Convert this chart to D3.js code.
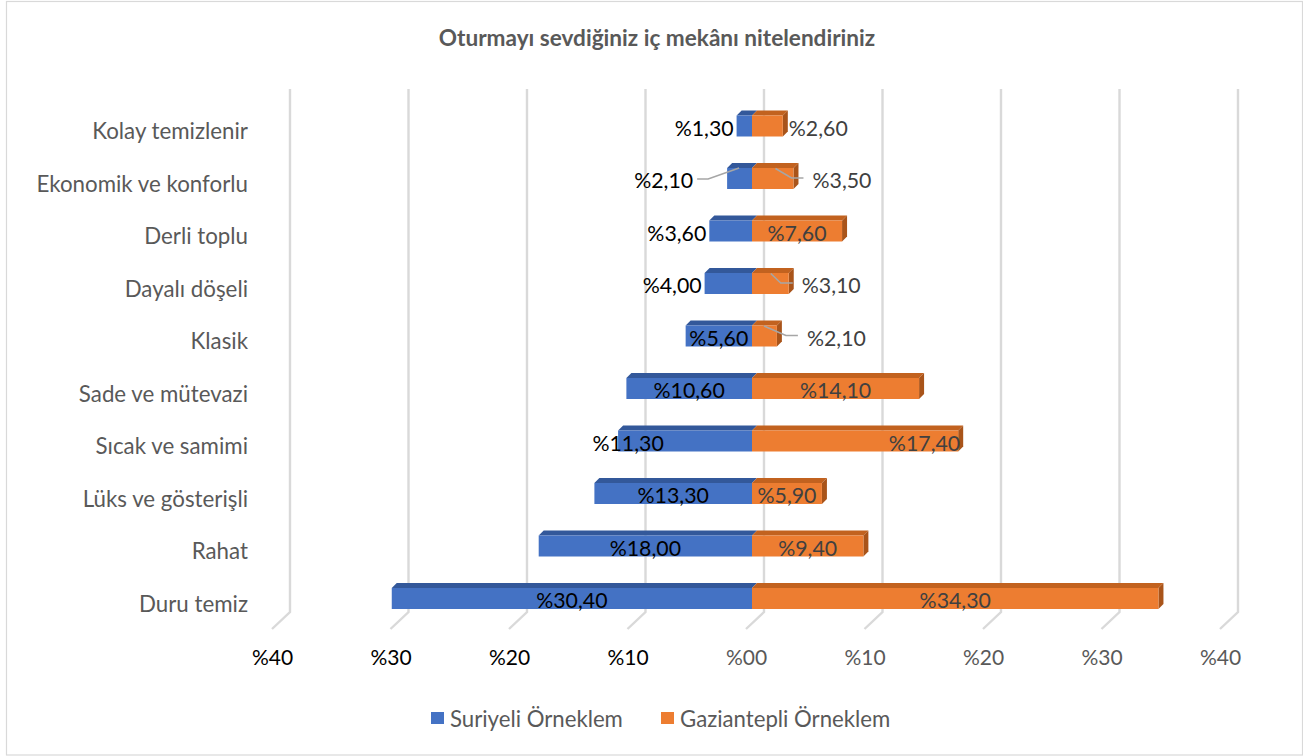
<!DOCTYPE html>
<html>
<head>
<meta charset="utf-8">
<script src="https://cdn.jsdelivr.net/npm/d3@7"></script>
<style>
  html, body { margin: 0; padding: 0; background: #fff; }
  svg { display: block; font-family: Lato, "Open Sans", sans-serif; }
</style>
</head>
<body>
<svg id="chart" width="1303" height="756"></svg>
<script>
// ---------- data ----------
const title = "Oturmayı sevdiğiniz iç mekânı nitelendiriniz";
const categories = ["Kolay temizlenir", "Ekonomik ve konforlu", "Derli toplu", "Dayalı döşeli", "Klasik",
  "Sade ve mütevazi", "Sıcak ve samimi", "Lüks ve gösterişli", "Rahat", "Duru temiz"];
const suriyeli = [1.3, 2.1, 3.6, 4.0, 5.6, 10.6, 11.3, 13.3, 18.0, 30.4];
const gaziantepli = [2.6, 3.5, 7.6, 3.1, 2.1, 14.1, 17.4, 5.9, 9.4, 34.3];
const seriesNames = ["Suriyeli Örneklem", "Gaziantepli Örneklem"];
const tickValues = [-40, -30, -20, -10, 0, 10, 20, 30, 40];
// label placement mode per bar: "in" centered, "out" outside end, "call" callout with leader, "end" inside end, "base" near bar end
const suriyeliLabelMode = ["out", "call", "out", "out", "in", "in", "base", "in", "in", "in"];
const gazLabelMode = ["out", "call", "in", "call", "call", "in", "end", "in", "in", "in"];

// ---------- layout ----------
const W = 1303, H = 756;
const svg = d3.select("#chart");
const depthX = 5, depthY = 5;        // bar 3D depth
const floorDX = 18, floorDY = 17;    // floor depth
const gridTop = 89, gridBottom = 612;
const xBack = d3.scaleLinear().domain([-40, 40]).range([290, 1238]);
const frontShift = 12;
const xFront = v => xBack(v) - frontShift;
const y = d3.scalePoint().domain(categories).range([126, 598.5]);
const barH = 21;

const col = {
  blue: "#4472c4", blueTop: "#33589a", blueSide: "#2f528f",
  orange: "#ed7d31", orangeTop: "#c2621f", orangeSide: "#a9541a",
  grid: "#d9d9d9", text: "#595959", leader: "#a6a6a6"
};

// border
svg.append("rect").attr("x", 6.5).attr("y", 1.5).attr("width", W - 7).attr("height", H - 2.5)
  .attr("fill", "none").attr("stroke", col.grid).attr("stroke-width", 1.2);

// title
svg.append("text").attr("x", 657).attr("y", 37).attr("text-anchor", "middle")
  .attr("dominant-baseline", "central").attr("font-weight", "bold").attr("font-size", 22.6)
  .attr("fill", col.text).text(title);

// gridlines (back wall + floor)
const grid = svg.append("g");
tickValues.forEach(t => {
  const xb = xBack(t);
  grid.append("path")
    .attr("d", `M${xb},${gridTop} L${xb},${gridBottom} L${xb - floorDX},${gridBottom + floorDY}`)
    .attr("fill", "none").attr("stroke", col.grid).attr("stroke-width", 2.4);
});

// tick labels
const xAxis = d3.axisBottom(d3.scaleLinear().domain([-40, 40]).range([xBack(-40) - floorDX, xBack(40) - floorDX]))
  .tickValues(tickValues)
  .tickFormat(d => "%" + String(Math.abs(d)).padStart(2, "0"))
  .tickSize(0).tickPadding(0);
const axisG = svg.append("g").attr("transform", `translate(0,${650})`).call(xAxis);
axisG.select(".domain").remove();
axisG.selectAll("text")
  .attr("font-family", "Lato, sans-serif").attr("font-size", 21)
  .attr("fill", d => d < 0 ? "#000" : col.text)
  .attr("dy", "0.71em");

// category labels
svg.append("g").selectAll("text").data(categories).join("text")
  .attr("x", 248).attr("y", d => y(d) + 4.5)
  .attr("text-anchor", "end").attr("dominant-baseline", "central")
  .attr("font-size", 22.3).attr("fill", col.text).text(d => d);

// bars
function drawBar(g, x0, x1, yc, front, top, side, showSide) {
  const yt = yc - barH / 2, yb = yc + barH / 2;
  const l = Math.min(x0, x1), r = Math.max(x0, x1);
  g.append("path")
    .attr("d", `M${l},${yt} L${r},${yt} L${r + depthX},${yt - depthY} L${l + depthX},${yt - depthY} Z`)
    .attr("fill", top);
  if (showSide) {
    g.append("path")
      .attr("d", `M${r},${yt} L${r + depthX},${yt - depthY} L${r + depthX},${yb - depthY} L${r},${yb} Z`)
      .attr("fill", side);
  }
  g.append("rect").attr("x", l).attr("y", yt).attr("width", r - l).attr("height", barH).attr("fill", front);
}
const barsG = svg.append("g");
categories.forEach((c, i) => {
  const yc = y(c);
  drawBar(barsG, xFront(0), xFront(-suriyeli[i]), yc, col.blue, col.blueTop, col.blueSide, false);
  drawBar(barsG, xFront(0), xFront(gaziantepli[i]), yc, col.orange, col.orangeTop, col.orangeSide, true);
});

// data labels
const fmt = v => "%" + v.toFixed(2).replace(".", ",");
const labG = svg.append("g").attr("font-size", 21.3);
const leaderG = svg.append("g");
function leader(points) {
  leaderG.append("path").attr("d", d3.line()(points))
    .attr("fill", "none").attr("stroke", col.leader).attr("stroke-width", 1.6);
}
categories.forEach((c, i) => {
  const yc = y(c), ly = yc + 1.5;
  // Suriyeli (left)
  {
    const v = suriyeli[i], end = xFront(-v), zero = xFront(0), mode = suriyeliLabelMode[i];
    const t = labG.append("text").attr("y", ly).attr("dominant-baseline", "central").attr("fill", "#000").text(fmt(v));
    if (mode === "in") t.attr("x", (end + zero) / 2).attr("text-anchor", "middle");
    else if (mode === "out") t.attr("x", end - 3).attr("text-anchor", "end");
    else if (mode === "base") t.attr("x", end + 10).attr("text-anchor", "middle");
    else if (mode === "call") {
      const lx = end - 34;
      t.attr("x", lx).attr("text-anchor", "end");
      leader([[end + 12, yc - barH / 2], [lx + 15, ly - 1], [lx + 4, ly - 1]]);
    }
  }
  // Gaziantepli (right)
  {
    const v = gaziantepli[i], end = xFront(v), zero = xFront(0), mode = gazLabelMode[i];
    const t = labG.append("text").attr("y", ly).attr("dominant-baseline", "central").attr("fill", "#404040").text(fmt(v));
    if (mode === "in") t.attr("x", (end + zero) / 2).attr("text-anchor", "middle");
    else if (mode === "out") t.attr("x", end + depthX + 1).attr("text-anchor", "start");
    else if (mode === "end") t.attr("x", end + 2).attr("text-anchor", "end");
    else if (mode === "call") {
      const off = [0, 19, 0, 13, 30, 0, 0, 0, 0, 0][i];
      const lx = end + off;
      t.attr("x", lx).attr("text-anchor", "start");
      leader([[Math.max(zero + 12, end - 18), yc - barH / 2 + 0.5], [lx - 21, ly - 2], [lx - 9, ly - 2]]);
    }
  }
});

// legend
const legend = svg.append("g").attr("font-size", 22.2).attr("fill", col.text);
const legendItems = [
  { name: seriesNames[0], color: col.blue, x: 431 },
  { name: seriesNames[1], color: col.orange, x: 661 }
];
legendItems.forEach(it => {
  legend.append("rect").attr("x", it.x).attr("y", 712).attr("width", 13).attr("height", 12).attr("fill", it.color);
  legend.append("text").attr("x", it.x + 19).attr("y", 718.5).attr("dominant-baseline", "central").text(it.name);
});
</script>
</body>
</html>
